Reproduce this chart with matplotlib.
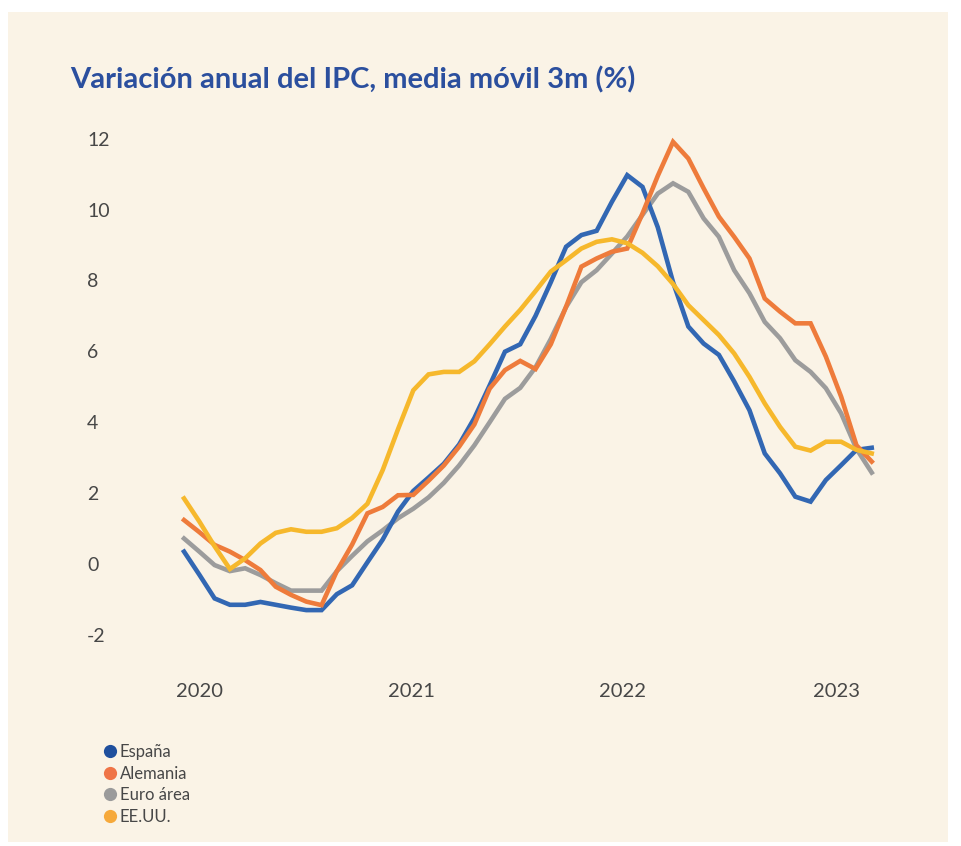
import matplotlib
matplotlib.use("Agg")
import matplotlib.pyplot as plt
from matplotlib.lines import Line2D
from matplotlib.patches import Rectangle

# monthly observations, 3m moving average of annual CPI change (%)
espana = [0.35, -0.3, -0.97, -1.15, -1.15, -1.07, -1.15, -1.23, -1.3, -1.3,
          -0.85, -0.6, 0.05, 0.69, 1.48, 2.06, 2.44, 2.83, 3.37, 4.12,
          5.04, 5.99, 6.2, 7.0, 7.95, 8.95, 9.28, 9.4, 10.22, 10.97,
          10.64, 9.5, 7.95, 6.7, 6.22, 5.9, 5.15, 4.34, 3.12, 2.56,
          1.9, 1.76, 2.37, 2.79, 3.22, 3.28]
alemania = [1.24, 0.9, 0.54, 0.35, 0.11, -0.17, -0.64, -0.87, -1.06, -1.16,
            -0.2, 0.55, 1.43, 1.61, 1.94, 1.95, 2.35, 2.78, 3.31, 3.94,
            4.95, 5.47, 5.73, 5.5, 6.2, 7.26, 8.39, 8.62, 8.81, 8.9,
            9.89, 10.95, 11.91, 11.44, 10.6, 9.8, 9.23, 8.62, 7.49, 7.12,
            6.79, 6.79, 5.85, 4.72, 3.35, 2.89]
euro_area = [0.72, 0.35, -0.03, -0.2, -0.12, -0.31, -0.54, -0.75, -0.75, -0.75,
             -0.2, 0.23, 0.64, 0.95, 1.29, 1.56, 1.88, 2.29, 2.78, 3.35,
             4.0, 4.66, 4.97, 5.55, 6.35, 7.25, 7.95, 8.29, 8.76, 9.24,
             9.85, 10.45, 10.74, 10.5, 9.75, 9.23, 8.29, 7.64, 6.83, 6.37,
             5.75, 5.42, 4.96, 4.25, 3.25, 2.58]
eeuu = [1.85, 1.2, 0.5, -0.14, 0.16, 0.58, 0.88, 0.98, 0.91, 0.91,
        1.01, 1.3, 1.7, 2.65, 3.8, 4.9, 5.35, 5.42, 5.42, 5.72,
        6.2, 6.7, 7.17, 7.7, 8.25, 8.57, 8.9, 9.09, 9.16, 9.05,
        8.78, 8.4, 7.9, 7.3, 6.88, 6.46, 5.94, 5.28, 4.53, 3.87,
        3.31, 3.2, 3.45, 3.45, 3.22, 3.12]

year_labels = ["2020", "2021", "2022", "2023"]
year_pos = [0.98, 14.86, 28.66, 42.67]
y_ticks = [-2, 0, 2, 4, 6, 8, 10, 12]

series = ["España", "Alemania", "Euro área", "EE.UU."]
line_colors = ["#3267b3", "#ee7b3b", "#9c9c9c", "#f6b82c"]
dot_colors = ["#1f4f9d", "#ef7447", "#9b9b9b", "#f6a93b"]

bg = "#faf3e6"
plt.rcParams['font.family'] = ['Lato', 'DejaVu Sans']

fig = plt.figure(figsize=(9.61, 8.46), dpi=100, facecolor="white")
fig.patches.append(Rectangle((8 / 961, 4 / 846), 940 / 961, 830 / 846,
                             transform=fig.transFigure, facecolor=bg,
                             edgecolor="none", zorder=-10))

ax = fig.add_axes([0.1597, 0.2076, 0.7792, 0.6704])
ax.set_facecolor("none")
ax.set_zorder(5)

x = list(range(len(espana)))
data = [espana, alemania, euro_area, eeuu]
order = [2, 0, 1, 3]
for k in order:
    ax.plot(x, data[k], color=line_colors[k], lw=3.3,
            solid_joinstyle="miter", zorder=2 + order.index(k))

ax.set_xlim(-2, 47)
ax.set_ylim(-3, 13)
ax.set_yticks(y_ticks)
ax.set_yticklabels([str(v) for v in y_ticks])
ax.set_xticks(year_pos)
ax.set_xticklabels(year_labels)
ax.tick_params(axis="y", length=0, pad=47.8, labelsize=14, labelcolor="#474747")
ax.tick_params(axis="x", length=0, pad=9, labelsize=14.5, labelcolor="#474747")
for lab in ax.get_yticklabels():
    lab.set_horizontalalignment("left")
for s in ax.spines.values():
    s.set_visible(False)

fig.text(70 / 961, 1 - 80 / 846, "Variación anual del IPC, media móvil 3m (%)",
         fontsize=21, fontweight="bold", color="#2b4f9e", va="center", ha="left")

handles = [Line2D([], [], ls="none", marker="o", markersize=9.5,
                  markerfacecolor=c, markeredgecolor="none") for c in dot_colors]
fig.legend(handles, series, loc="upper left", bbox_to_anchor=(104 / 961, 1 - 744 / 846),
           frameon=False, fontsize=12, labelcolor="#474747", handlelength=0.7,
           handletextpad=0.25, labelspacing=0.33, borderpad=0, borderaxespad=0)

fig.savefig("out.png", dpi=100, facecolor="white")
